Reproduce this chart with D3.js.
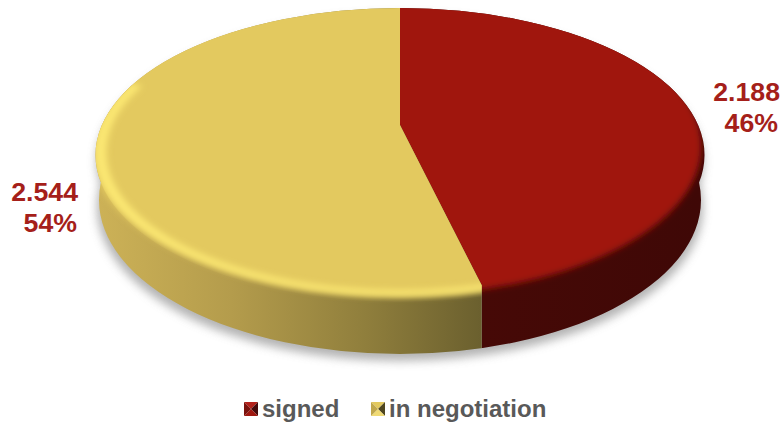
<!DOCTYPE html>
<html>
<head>
<meta charset="utf-8">
<script src="https://cdnjs.cloudflare.com/ajax/libs/d3/7.8.5/d3.min.js"></script>
<style>
html,body{margin:0;padding:0;background:#fff}
svg{display:block}
text{font-family:"Liberation Sans",Arial,sans-serif;font-weight:700}
</style>
</head>
<body>
<svg id="chart" width="784" height="422"></svg>
<script>
// Contract volumes per status
const categories = ["signed", "in negotiation"];
const values = [2188, 2544];
const valueLabels = ["2.188", "2.544"];
const percentLabels = ["46%", "54%"];

// Disc styling per slice
const faceColors = ["#a01810", "#e3c95f"];
const wallStops = [
  [[0, "#460906"], [1, "#3f0806"]],
  [[0, "#cdb257"], [0.35, "#b49c4c"], [0.7, "#8f7e3c"], [1, "#6a5f2e"]]
];
const markerShades = [
  ["#b4211b", "#45090a", "#a01810", "#7a120d"],
  ["#e3c95f", "#4f4620", "#f0da74", "#c0a74c"]
];

// Disc geometry: a circle seen in perspective, so its centre sits above the ellipse centre
const W = 784, H = 422;
const cx = 400, apexY = 125, persp = 0.204, scaleX = 298.1, scaleY = 140.9;
const rim = {cy: 155, rx: 304.5, ry: 147};
const base = {cy: 200, rx: 301, ry: 154};
const faceRadius = 0.95;

const project = (angle, r) => {
  const u = r * Math.sin(angle), v = -r * Math.cos(angle), w = 1 - persp * v;
  return [cx + scaleX * u / w, apexY + scaleY * v / w];
};

const svg = d3.select("#chart");
const defs = svg.append("defs");

const blur = (id, sd) => defs.append("filter")
  .attr("id", id).attr("x", "-10%").attr("y", "-10%").attr("width", "120%").attr("height", "125%")
  .append("feGaussianBlur").attr("stdDeviation", sd);
blur("soft-shadow", 5);
blur("soft-face", 3.2);
blur("soft-glow", 3);

const arcs = d3.pie().sort(null).value(d => d)(values);

// Slice regions: straight from the centre to the face corner, vertical down the wall
const corner = project(arcs[0].endAngle, faceRadius);
const sliceRegion = d => {
  const apex = project(0, 0), bottomY = H + 20;
  const sideX = d.index === 0 ? W + 20 : -20;
  return [[cx, -20], [sideX, -20], [sideX, bottomY], [corner[0], bottomY], corner, apex];
};
const polygon = d3.line().curve(d3.curveLinearClosed);

defs.selectAll("clipPath.slice").data(arcs).join("clipPath")
  .attr("class", "slice").attr("id", d => "slice-" + d.index)
  .append("path").attr("d", d => polygon(sliceRegion(d)));

const silhouette = defs.append("clipPath").attr("id", "silhouette");
silhouette.append("ellipse").attr("cx", cx).attr("cy", rim.cy).attr("rx", rim.rx).attr("ry", rim.ry);
silhouette.append("ellipse").attr("cx", cx).attr("cy", base.cy).attr("rx", base.rx).attr("ry", base.ry);

const rimClip = defs.append("clipPath").attr("id", "rim-only");
rimClip.append("ellipse").attr("cx", cx).attr("cy", rim.cy).attr("rx", rim.rx).attr("ry", rim.ry);

wallStops.forEach((stops, i) => {
  const g = defs.append("linearGradient").attr("id", "wall-" + i)
    .attr("gradientUnits", "userSpaceOnUse")
    .attr("x1", i === 0 ? 484 : 95).attr("x2", i === 0 ? 700 : 484)
    .attr("y1", 0).attr("y2", 0);
  stops.forEach(s => g.append("stop").attr("offset", s[0]).attr("stop-color", s[1]));
});

// Drop shadow under the whole disc
const shadow = svg.append("g").attr("filter", "url(#soft-shadow)").attr("fill", "#9a9a9a").attr("opacity", 0.75);
shadow.append("ellipse").attr("cx", cx).attr("cy", base.cy + 7).attr("rx", base.rx + 2).attr("ry", base.ry);
shadow.append("ellipse").attr("cx", cx).attr("cy", rim.cy + 7).attr("rx", rim.rx - 1).attr("ry", rim.ry);

const disc = svg.append("g").attr("clip-path", "url(#silhouette)");
const slices = disc.selectAll("g.slice").data(arcs).join("g")
  .attr("class", "slice").attr("clip-path", d => `url(#slice-${d.index})`);

// Wall
slices.append("rect").attr("x", 0).attr("y", 0).attr("width", W).attr("height", H)
  .attr("fill", d => `url(#wall-${d.index})`);

// Top face, lifted a little so only its lower edge melts into the wall
slices.append("ellipse")
  .attr("cx", cx)
  .attr("cy", d => rim.cy - (d.index === 0 ? 9 : 7))
  .attr("rx", d => rim.rx - (d.index === 0 ? 3 : -6))
  .attr("ry", rim.ry + 2)
  .attr("fill", d => faceColors[d.index])
  .attr("filter", "url(#soft-face)");

// Glossy lip running from the lower edge of the yellow slice up its left side
const lipSweep = d3.range(0, 1.16 * Math.PI, 0.02);
const ringPoint = (t, rx, ry) => [cx + rx * Math.cos(t), rim.cy - 3 + ry * Math.sin(t)];
slices.filter(d => d.index === 1).append("path")
  .attr("clip-path", "url(#rim-only)")
  .attr("d", polygon([
    ...lipSweep.map(t => ringPoint(t, rim.rx + 1, rim.ry - 3)),
    ...lipSweep.slice().reverse().map(t => ringPoint(t, rim.rx - 11, rim.ry - 9))
  ]))
  .attr("fill", "#fbe772")
  .attr("filter", "url(#soft-glow)");

// Value and share labels
const labelAnchors = [{x: 780, y: 101}, {x: 78, y: 201}];
const percentOffsets = [-2, -1];
const labels = svg.selectAll("g.label").data(arcs).join("g")
  .attr("class", "label")
  .attr("text-anchor", "end")
  .attr("fill", "#a51f1a")
  .attr("font-size", 26.7);
labels.append("text").attr("x", d => labelAnchors[d.index].x).attr("y", d => labelAnchors[d.index].y)
  .text(d => valueLabels[d.index]);
labels.append("text").attr("x", d => labelAnchors[d.index].x + percentOffsets[d.index]).attr("y", d => labelAnchors[d.index].y + 31)
  .text(d => percentLabels[d.index]);

// Legend with pyramid-bevelled swatches
const legendX = [244, 371], swatch = 14, legendY = 402;
const legend = svg.selectAll("g.legend").data(categories).join("g")
  .attr("class", "legend")
  .attr("transform", (d, i) => `translate(${legendX[i]},${legendY})`);
legend.each(function(d, i) {
  const g = d3.select(this), s = swatch, m = s / 2;
  const tris = [
    [[0, 0], [s, 0], [m, m]],
    [[s, 0], [s, s], [m, m]],
    [[0, s], [s, s], [m, m]],
    [[0, 0], [0, s], [m, m]]
  ];
  g.selectAll("path").data(tris).join("path")
    .attr("d", polygon)
    .attr("fill", (t, k) => markerShades[i][k]);
});
legend.append("text").attr("x", swatch + 4).attr("y", 15)
  .attr("fill", "#595959").attr("font-size", 24).text(d => d);
</script>
</body>
</html>
